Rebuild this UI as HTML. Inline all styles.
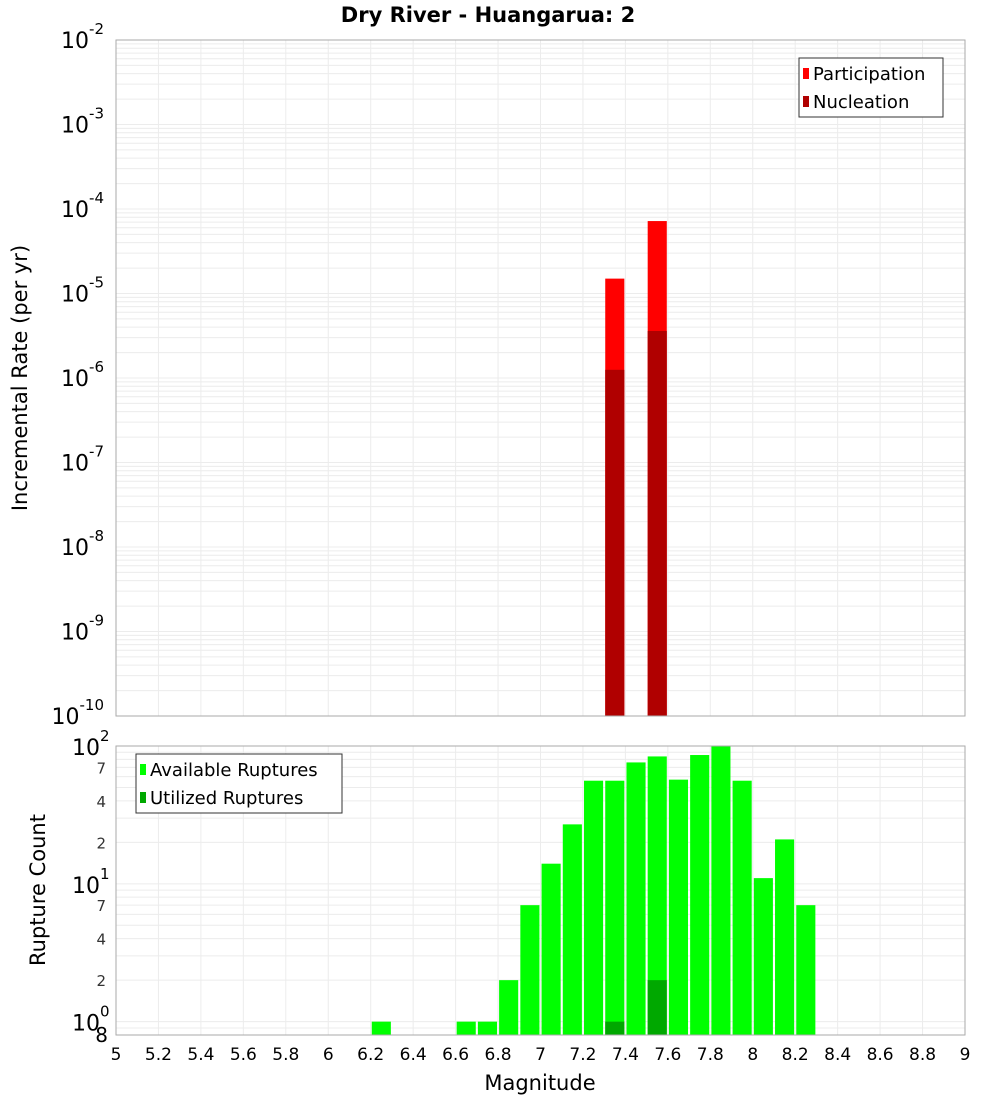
<!DOCTYPE html>
<html><head><meta charset="utf-8"><style>
body{margin:0;background:#fff;font-family:"DejaVu Sans","Liberation Sans",sans-serif}
</style></head><body>
<svg id="c" width="1000" height="1100" xmlns="http://www.w3.org/2000/svg" font-family="DejaVu Sans, Liberation Sans, sans-serif"></svg>
<script>
const topMags=[7.35,7.55];
const participation=[1.5e-5,7.2e-5];
const nucleation=[1.25e-6,3.6e-6];
const botMags=[6.25,6.65,6.75,6.85,6.95,7.05,7.15,7.25,7.35,7.45,7.55,7.65,7.75,7.85,7.95,8.05,8.15,8.25];
const available=[1,1,1,2,7,14,27,56,56,76,84,57,86,100,56,11,21,7];
const utilMags=[7.35,7.55];
const utilized=[1,2];
const xTicks=[5,5.2,5.4,5.6,5.8,6,6.2,6.4,6.6,6.8,7,7.2,7.4,7.6,7.8,8,8.2,8.4,8.6,8.8,9];
const topExp=[-10,-9,-8,-7,-6,-5,-4,-3,-2];
const botMinor=[2,4,7,20,40,70];

const NS="http://www.w3.org/2000/svg";
const svg=document.getElementById('c');
function el(t,a,txt){const e=document.createElementNS(NS,t);for(const k in a)e.setAttribute(k,a[k]);if(txt!==undefined)e.textContent=txt;svg.appendChild(e);return e;}
const X0=116,X1=965;
const x=m=>X0+(m-5)/4*(X1-X0);
const T0=40,T1=716;
const yT=v=>T0+(-2-Math.log10(v))/8*(T1-T0);
const B0=746,B1=1035;
const lbmin=Math.log10(0.8),lbmax=2;
const yB=v=>B1-(Math.log10(v)-lbmin)/(lbmax-lbmin)*(B1-B0);

// title
let t=el('text',{x:488,y:22,'text-anchor':'middle','font-size':21,'font-weight':'bold'},'Dry River - Huangarua: 2');


// grids
for(const m of xTicks){el('line',{x1:x(m),x2:x(m),y1:T0,y2:T1,stroke:'#ececec'});el('line',{x1:x(m),x2:x(m),y1:B0,y2:B1,stroke:'#ececec'});}
for(let e=-10;e<-2;e++)for(let k=1;k<10;k++){const yy=yT(k*Math.pow(10,e));el('line',{x1:X0,x2:X1,y1:yy,y2:yy,stroke:'#ececec'});}
for(let e=-1;e<2;e++)for(let k=1;k<10;k++){const v=k*Math.pow(10,e);if(v<0.8)continue;const yy=yB(v);el('line',{x1:X0,x2:X1,y1:yy,y2:yy,stroke:'#ececec'});}

// top bars
topMags.forEach((m,i)=>{
 let r=el('rect',{x:x(m-0.045),y:yT(participation[i]),width:x(m+0.045)-x(m-0.045),height:T1-yT(participation[i]),fill:'#ff0000'});
 
 r=el('rect',{x:x(m-0.045),y:yT(nucleation[i]),width:x(m+0.045)-x(m-0.045),height:T1-yT(nucleation[i]),fill:'#b00000'});
 
});
// bottom bars
botMags.forEach((m,i)=>{
 const r=el('rect',{x:x(m-0.045),y:yB(available[i]),width:x(m+0.045)-x(m-0.045),height:B1-yB(available[i]),fill:'#00ff00'});
 
});
utilMags.forEach((m,i)=>{
 const r=el('rect',{x:x(m-0.045),y:yB(utilized[i]),width:x(m+0.045)-x(m-0.045),height:B1-yB(utilized[i]),fill:'#00a800'});
 
});

// frames
el('rect',{x:X0,y:T0,width:X1-X0,height:T1-T0,fill:'none',stroke:'#aaa'});
el('rect',{x:X0,y:B0,width:X1-X0,height:B1-B0,fill:'none',stroke:'#aaa'});

// top y ticks
topExp.forEach(e=>{
 const yy=yT(Math.pow(10,e));
 let g=el('text',{x:104,y:yy+8,'text-anchor':'end','font-size':22});
 
 g.innerHTML='10<tspan dy="-14" font-size="15">'+e+'</tspan>';
});
// bottom y ticks
[0,1,2].forEach(e=>{
 const yy=yB(Math.pow(10,e));
 let g=el('text',{x:72,y:yy+9,'font-size':22});
 
 g.innerHTML='10<tspan dy="-14" font-size="15">'+e+'</tspan>';
});
botMinor.forEach(v=>{const g=el('text',{x:106,y:yB(v)+6,'text-anchor':'end','font-size':15,fill:'#333'},String(String(v)[0]));});
el('text',{x:108,y:1042,'text-anchor':'end','font-size':20},'8');
// x ticks
xTicks.forEach(m=>{const g=el('text',{x:x(m),y:1060,'text-anchor':'middle','font-size':17},String(m));});
t=el('text',{x:540,y:1090,'text-anchor':'middle','font-size':21},'Magnitude');
t=el('text',{x:0,y:0,'text-anchor':'middle','font-size':21,transform:'translate(27,378) rotate(-90)'},'Incremental Rate (per yr)');
t=el('text',{x:0,y:0,'text-anchor':'middle','font-size':21,transform:'translate(45,890) rotate(-90)'},'Rupture Count');

// legends
let lg=el('rect',{x:799,y:58,width:144,height:59,fill:'#fff',stroke:'#333'});
el('rect',{x:803,y:68,width:6,height:11,fill:'#ff0000'});
el('text',{x:813,y:80,'font-size':18},'Participation');
el('rect',{x:803,y:96,width:6,height:11,fill:'#b00000'});
el('text',{x:813,y:108,'font-size':18},'Nucleation');
lg=el('rect',{x:136,y:754,width:206,height:59,fill:'#fff',stroke:'#333'});
el('rect',{x:140,y:764,width:6,height:11,fill:'#00ff00'});
el('text',{x:150,y:776,'font-size':18},'Available Ruptures');
el('rect',{x:140,y:792,width:6,height:11,fill:'#00a800'});
el('text',{x:150,y:804,'font-size':18},'Utilized Ruptures');
</script>
</body></html>
